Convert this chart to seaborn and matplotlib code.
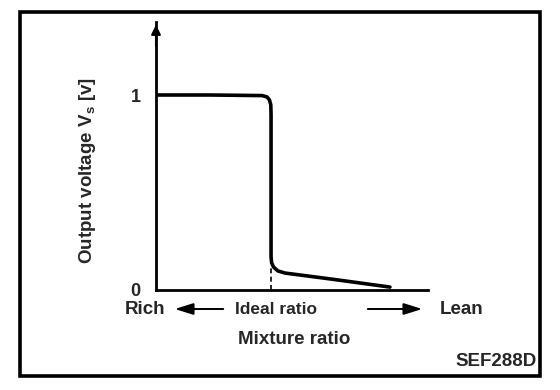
import numpy as np
import pandas as pd
import matplotlib
matplotlib.use('Agg')
import matplotlib.pyplot as plt
import seaborn as sns
from matplotlib.patches import Rectangle, FancyArrowPatch

# curve (x in arbitrary mixture units, y in volts)
mixture = [0.0, 2.0, 3.9, 4.08, 4.17, 4.22, 4.23, 4.23, 4.25, 4.32, 4.48, 4.74, 6.5, 8.6]
voltage = [1.0, 1.0, 0.997, 0.99, 0.975, 0.95, 0.90, 0.17, 0.14, 0.118, 0.098, 0.087, 0.055, 0.015]
ideal_x = 4.23
y_ticks = [0, 1]
y_tick_labels = ['0', '1']

curve = pd.DataFrame({'Mixture': mixture, 'Voltage': voltage})

sns.set_style('white')
plt.rcParams['font.family'] = ['Liberation Sans', 'DejaVu Sans']
plt.rcParams['font.weight'] = 'bold'

W, H = 560, 390
fig = plt.figure(figsize=(5.6, 3.9), dpi=100)

def fx(px):
    return px / W

def fy(py):
    return 1 - py / H

# outer frame
fig.patches.append(Rectangle((fx(20), fy(376)), fx(540) - fx(20), fy(12) - fy(376),
                             transform=fig.transFigure, fill=False, lw=2.6,
                             edgecolor='black'))

ax = fig.add_axes([fx(156), fy(290), fx(428) - fx(156), fy(22) - fy(290)])
sns.lineplot(data=curve, x='Mixture', y='Voltage', sort=False, estimator=None,
             color='black', lw=2.6, ax=ax)
ax.plot([ideal_x, ideal_x], [0, 0.13], color='black', lw=1.2, ls=(0, (3, 2)))

ax.set_xlim(0, 10)
ax.set_ylim(0, 268 / 195)
sns.despine(ax=ax)
for s in ['left', 'bottom']:
    ax.spines[s].set_linewidth(2)
    ax.spines[s].set_color('black')
ax.set_xticks([])
ax.set_yticks(y_ticks)
ax.set_yticklabels(y_tick_labels, fontsize=13, fontweight='bold')
ax.tick_params(axis='y', length=0, pad=11)
ax.set_xlabel('')
ax.set_ylabel('')

# arrow head on the y axis
ax.annotate('', xy=(0, 1.0), xycoords='axes fraction', xytext=(0, 0.9),
            arrowprops=dict(arrowstyle='-|>', color='black', lw=1.5,
                            mutation_scale=14))

fig.text(fx(88), fy(170), 'Output voltage V$_\\mathregular{s}$ [v]', rotation=90,
         ha='center', va='center', fontsize=13.5)
fig.text(fx(145), fy(309), 'Rich', ha='center', va='center', fontsize=13.5)
fig.text(fx(276), fy(309), 'Ideal ratio', ha='center', va='center', fontsize=12.5)
fig.text(fx(462), fy(309), 'Lean', ha='center', va='center', fontsize=13.5)
fig.text(fx(294), fy(340), 'Mixture ratio', ha='center', va='center', fontsize=13.5)
fig.text(fx(537), fy(362), 'SEF288D', ha='right', va='center', fontsize=13.5)

fig.patches.append(FancyArrowPatch(
    (fx(226), fy(309)), (fx(172), fy(309)), transform=fig.transFigure,
    arrowstyle='-|>,head_length=0.8,head_width=0.25', mutation_scale=14,
    color='black', lw=1.4))
fig.patches.append(FancyArrowPatch(
    (fx(365), fy(309)), (fx(425), fy(309)), transform=fig.transFigure,
    arrowstyle='-|>,head_length=0.8,head_width=0.25', mutation_scale=14,
    color='black', lw=1.4))

plt.savefig('out.png', dpi=100)
